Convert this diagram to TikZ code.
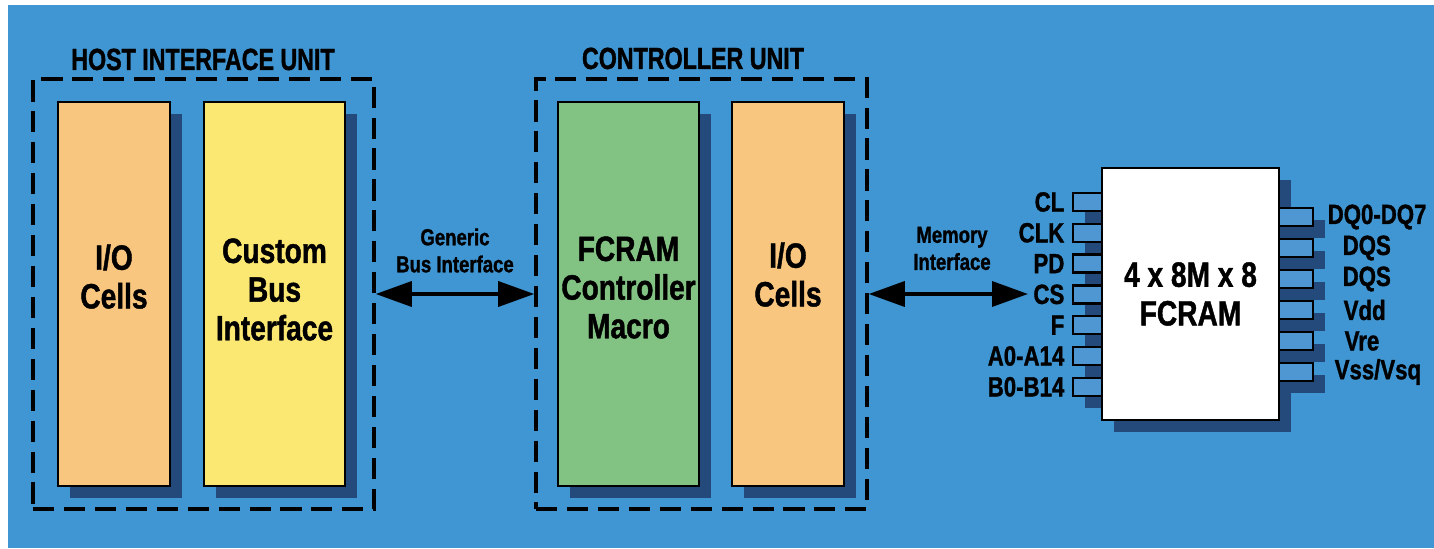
\documentclass[tikz,border=0pt]{standalone}
\usepackage{fontspec}
\setmainfont{Liberation Sans}[FakeStretch=0.8,BoldFeatures={FakeBold=1.2}]
\newfontfamily\titlefont{Liberation Sans}[FakeStretch=0.76,BoldFeatures={FakeBold=1.2}]
\usepackage{tikz}
\usetikzlibrary{arrows.meta}
\usetikzlibrary{shadows}

\definecolor{bgblue}{HTML}{4096D2}
\definecolor{shade}{HTML}{234A7B}
\definecolor{cellorange}{HTML}{F9C680}
\definecolor{busyellow}{HTML}{FBE872}
\definecolor{macrogreen}{HTML}{82C283}
\definecolor{pinblue}{HTML}{4E97D3}

\tikzset{
  boxshadow/.style={drop shadow={shadow xshift=0.12cm,shadow yshift=-0.12cm,fill=shade,opacity=1}},
  unitbox/.style={draw,line width=1pt,dash pattern=on 6pt off 2.8pt,minimum width=3.41cm,minimum height=4.30cm,inner sep=0},
  unittitle/.style={anchor=base,inner sep=0,font=\titlefont\fontsize{8.7}{10}\selectfont\bfseries},
  cellbox/.style={draw,line width=0.8pt,boxshadow,minimum height=3.84cm,inner sep=0},
  boxtext/.style={align=center,inner sep=0,font=\fontsize{10}{11}\selectfont\bfseries},
  bustext/.style={align=center,inner sep=0,font=\fontsize{6.6}{7.7}\selectfont\bfseries},
  pintext/.style={inner sep=0.5pt,font=\fontsize{7.9}{9}\selectfont\bfseries},
  lpin/.style={draw,fill=pinblue,line width=0.7pt,boxshadow,minimum width=0.29cm,minimum height=0.18cm,inner sep=0},
  rpin/.style={lpin,minimum width=0.34cm},
  chipbox/.style={draw,fill=white,line width=0.8pt,boxshadow,minimum width=1.77cm,minimum height=2.52cm,align=center,font=\fontsize{10}{11}\selectfont\bfseries},
  bus/.style={line width=1pt,{Triangle[length=0.36cm,width=0.25cm]}-{Triangle[length=0.36cm,width=0.25cm]}}
}

\begin{document}
\begin{tikzpicture}
  \useasboundingbox (0,0) rectangle (14.34,5.48);
  \fill [bgblue] (0.08,0) rectangle (14.34,5.43);

  % host interface unit
  \node [unitbox] (host) at (2.035,2.54) {};
  \node [unittitle] at (2.03,4.78) {HOST INTERFACE UNIT};
  \node [cellbox,fill=cellorange,minimum width=1.12cm] (iohost) at (1.14,2.54) {};
  \node [cellbox,fill=busyellow,minimum width=1.41cm] (custom) at (2.745,2.54) {};
  \node [boxtext] at ([yshift=0.175cm]iohost.center) {I/O\\Cells};
  \node [boxtext] at ([yshift=0.045cm]custom.center) {Custom\\Bus\\Interface};

  % controller unit
  \node [unitbox,minimum width=3.31cm] (ctrl) at (7.015,2.54) {};
  \node [unittitle] at (6.93,4.79) {CONTROLLER UNIT};
  \node [cellbox,fill=macrogreen,minimum width=1.41cm] (macro) at (6.285,2.54) {};
  \node [cellbox,fill=cellorange,minimum width=1.12cm] (ioctrl) at (7.88,2.54) {};
  \node [boxtext] at ([yshift=0.065cm]macro.center) {FCRAM\\Controller\\Macro};
  \node [boxtext] at ([yshift=0.195cm]ioctrl.center) {I/O\\Cells};

  % FCRAM chip, left pins
  \node [lpin,label={[pintext,label distance=0.05cm]left:CL}] (pcl) at (10.875,3.46) {};
  \node [lpin,label={[pintext,label distance=0.05cm]left:CLK}] (pclk) at (10.875,3.152) {};
  \node [lpin,label={[pintext,label distance=0.05cm]left:PD}] (ppd) at (10.875,2.844) {};
  \node [lpin,label={[pintext,label distance=0.05cm,name=cs]left:CS}] (pcs) at (10.875,2.536) {};
  \node [lpin,label={[pintext,label distance=0.05cm]left:F}] (pf) at (10.875,2.228) {};
  \node [lpin,label={[pintext,label distance=0.05cm]left:A0-A14}] (pa) at (10.875,1.920) {};
  \node [lpin,label={[pintext,label distance=0.05cm]left:B0-B14}] (pb) at (10.875,1.612) {};

  \node [chipbox] (chip) at (11.905,2.54) {4 x 8M x 8\\FCRAM};

  % right pins
  \node [rpin,label={[pintext,label distance=0.11cm]right:DQ0-DQ7}] (pdq) at (12.96,3.31) {};
  \node [rpin,label={[pintext,label distance=0.26cm]right:DQS}] (pdqs) at (12.96,3.00) {};
  \node [rpin,label={[pintext,label distance=0.26cm]right:DQS}] (pdqsb) at (12.96,2.69) {};
  \node [rpin,label={[pintext,label distance=0.27cm]right:Vdd}] (pvdd) at (12.96,2.38) {};
  \node [rpin,label={[pintext,label distance=0.28cm]right:Vre}] (pvre) at (12.96,2.07) {};
  \node [rpin,label={[pintext,label distance=0.18cm]right:Vss/Vsq}] (pvss) at (12.96,1.76) {};

  % interfaces
  \node [bustext] at (4.55,2.975) {Generic\\Bus Interface};
  \node [bustext] at (9.52,2.995) {Memory\\Interface};
  \draw [bus] (host.east) -- (ctrl.west);
  \draw [bus] (ctrl.east) -- ([xshift=-0.03cm]ctrl.east -| cs.west);
\end{tikzpicture}
\end{document}
